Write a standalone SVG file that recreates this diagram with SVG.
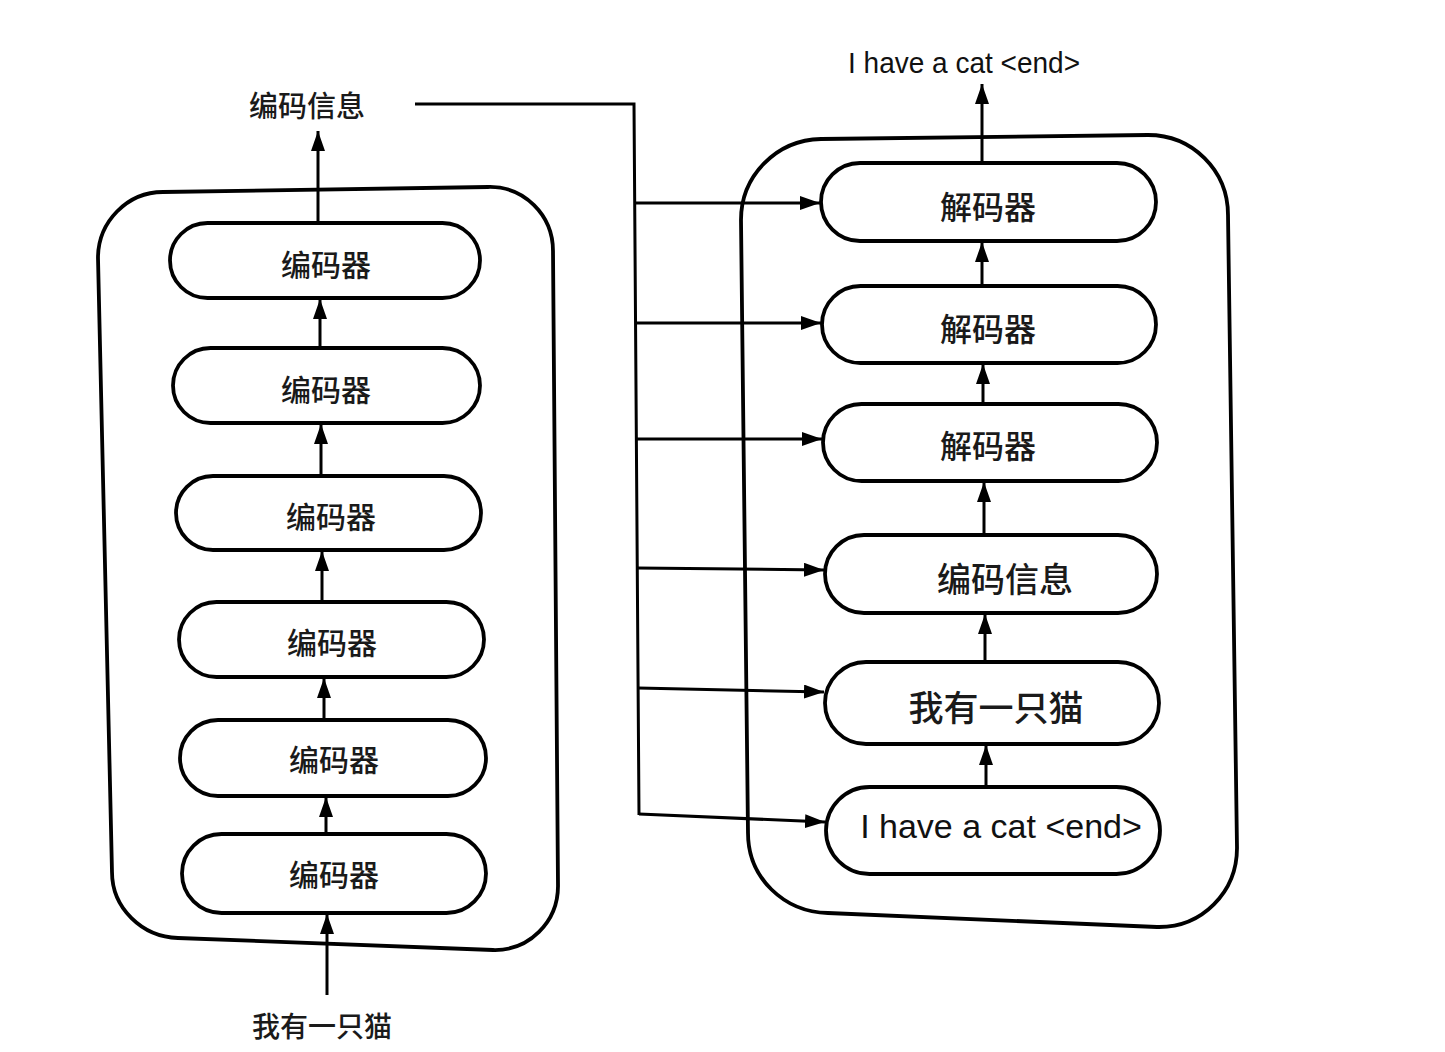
<svg xmlns="http://www.w3.org/2000/svg" width="1445" height="1052" viewBox="0 0 1445 1052">
<style>
.box{fill:none;stroke:#000;stroke-width:3.8}
.cap{fill:#fff;stroke:#000;stroke-width:3.8}
.ln{fill:none;stroke:#000;stroke-width:3}
.cn{font-family:"Noto Sans CJK SC","Noto Sans",sans-serif;font-weight:500;fill:#1a1a1a;text-anchor:middle;dominant-baseline:central}
.en{font-family:"Liberation Sans","Noto Sans",sans-serif;fill:#111;text-anchor:middle;dominant-baseline:central}
</style>
<defs>
<marker id="ah" markerUnits="userSpaceOnUse" markerWidth="22" markerHeight="16" refX="20" refY="7" orient="auto">
<path d="M0,0 L20,7 L0,14 Z" fill="#000"/>
</marker>
</defs>
<rect width="1445" height="1052" fill="#fff"/>
<g id="encoder-stack">
<path class="box" d="M98,258 C98,222 127,192 163,192 L488,187 C524,186 553,215 553,251 L558,886 C558,922 529,951 493,950 L178,938 C142,937 112,908 112,872 Z"/>
</g>
<g id="decoder-stack">
<path class="box" d="M741,220 C741,176 776,140 821,139 L1148,135 C1192,135 1228,170 1228,215 L1237,848 C1237,892 1202,928 1157,927 L828,913 C784,912 748,878 748,833 Z"/>
</g>
<g id="enc1"><rect class="cap" x="170" y="223" width="310" height="75" rx="37.5"/><text class="cn" x="326" y="263" font-size="30">编码器</text></g>
<g id="enc2"><rect class="cap" x="173" y="348" width="307" height="75" rx="37.5"/><text class="cn" x="326" y="388" font-size="30">编码器</text></g>
<g id="enc3"><rect class="cap" x="176" y="476" width="305" height="74" rx="37"/><text class="cn" x="331" y="515" font-size="30">编码器</text></g>
<g id="enc4"><rect class="cap" x="179" y="602" width="305" height="75" rx="37.5"/><text class="cn" x="332" y="641" font-size="30">编码器</text></g>
<g id="enc5"><rect class="cap" x="180" y="720" width="306" height="76" rx="38"/><text class="cn" x="334" y="758" font-size="30">编码器</text></g>
<g id="enc6"><rect class="cap" x="182" y="834" width="304" height="79" rx="39.5"/><text class="cn" x="334" y="873" font-size="30">编码器</text></g>
<g id="enc-out-label"><text class="cn" x="307" y="104" font-size="29">编码信息</text></g>
<g id="enc-in-label"><text class="cn" x="322" y="1025" font-size="28">我有一只猫</text></g>
<g id="dec1"><rect class="cap" x="821" y="163" width="335" height="78" rx="39"/><text class="cn" x="988" y="205" font-size="32">解码器</text></g>
<g id="dec2"><rect class="cap" x="822" y="286" width="334" height="77" rx="38.5"/><text class="cn" x="988" y="327" font-size="32">解码器</text></g>
<g id="dec3"><rect class="cap" x="823" y="404" width="334" height="77" rx="38.5"/><text class="cn" x="988" y="444" font-size="32">解码器</text></g>
<g id="dec-enc-info"><rect class="cap" x="825" y="535" width="332" height="78" rx="39"/><text class="cn" x="1005" y="577" font-size="34">编码信息</text></g>
<g id="dec-src"><rect class="cap" x="825" y="662" width="334" height="82" rx="41"/><text class="cn" x="996" y="705" font-size="35">我有一只猫</text></g>
<g id="dec-tgt"><rect class="cap" x="826" y="787" width="334" height="87" rx="43.5"/><text class="en" x="1001" y="826" font-size="34">I have a cat &lt;end&gt;</text></g>
<g id="dec-out-label"><text class="en" x="964" y="62" font-size="30" textLength="232" lengthAdjust="spacingAndGlyphs">I have a cat &lt;end&gt;</text></g>
<g id="connectors">
<line class="ln" x1="318" y1="223" x2="318" y2="131" marker-end="url(#ah)"/>
<line class="ln" x1="320" y1="348" x2="320" y2="299" marker-end="url(#ah)"/>
<line class="ln" x1="321" y1="476" x2="321" y2="424" marker-end="url(#ah)"/>
<line class="ln" x1="322" y1="602" x2="322" y2="551" marker-end="url(#ah)"/>
<line class="ln" x1="324" y1="720" x2="324" y2="678" marker-end="url(#ah)"/>
<line class="ln" x1="326" y1="834" x2="326" y2="797" marker-end="url(#ah)"/>
<line class="ln" x1="327" y1="995" x2="327" y2="914" marker-end="url(#ah)"/>
<line class="ln" x1="982" y1="163" x2="982" y2="84" marker-end="url(#ah)"/>
<line class="ln" x1="982" y1="286" x2="982" y2="242" marker-end="url(#ah)"/>
<line class="ln" x1="983" y1="404" x2="983" y2="364" marker-end="url(#ah)"/>
<line class="ln" x1="984" y1="535" x2="984" y2="482" marker-end="url(#ah)"/>
<line class="ln" x1="985" y1="662" x2="985" y2="614" marker-end="url(#ah)"/>
<line class="ln" x1="986" y1="787" x2="986" y2="745" marker-end="url(#ah)"/>
<polyline class="ln" points="415,104 634,104 639,815"/>
<line class="ln" x1="635" y1="203" x2="820" y2="203" marker-end="url(#ah)"/>
<line class="ln" x1="635" y1="323" x2="821" y2="323" marker-end="url(#ah)"/>
<line class="ln" x1="636" y1="439" x2="822" y2="439" marker-end="url(#ah)"/>
<line class="ln" x1="637" y1="568" x2="824" y2="570" marker-end="url(#ah)"/>
<line class="ln" x1="638" y1="688" x2="824" y2="692" marker-end="url(#ah)"/>
<line class="ln" x1="639" y1="814" x2="825" y2="822" marker-end="url(#ah)"/>
</g>
</svg>
